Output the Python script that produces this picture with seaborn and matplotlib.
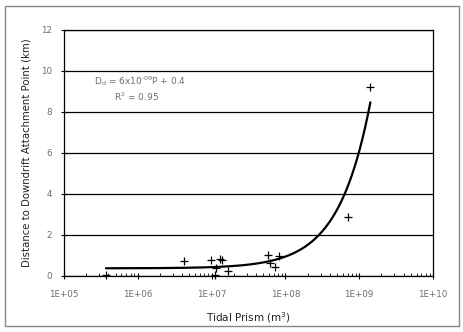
import numpy as np
import pandas as pd
import matplotlib
matplotlib.use("Agg")
import matplotlib.pyplot as plt
import matplotlib.ticker as mticker
from matplotlib.patches import Rectangle
import seaborn as sns

# Data
tidal_prism = [3.7e5, 4.2e6, 9.8e6, 1.1e7, 1.15e7, 1.3e7, 1.4e7, 1.67e7,
               5.9e7, 6.2e7, 7.3e7, 8.1e7, 7.1e8, 1.42e9]
distance_km = [0.02, 0.73, 0.76, 0.02, 0.37, 0.83, 0.78, 0.24,
               1.02, 0.62, 0.42, 0.96, 2.85, 9.19]
# trend line constants (linear fit drawn on log x axis)
fit_slope = 5.7e-9
fit_intercept = 0.37
x_ticks = [1e5, 1e6, 1e7, 1e8, 1e9, 1e10]
x_tick_labels = ["1E+05", "1E+06", "1E+07", "1E+08", "1E+09", "1E+10"]
y_ticks = [0, 2, 4, 6, 8, 10, 12]

sns.set_theme(style="white")
plt.rcParams['font.family'] = ['DejaVu Sans']

fig = plt.figure(figsize=(4.64, 3.32), dpi=100)
ax = fig.add_axes([0.138, 0.169, 0.795, 0.741])

df = pd.DataFrame({"P": tidal_prism, "D": distance_km})
sns.scatterplot(data=df, x="P", y="D", marker="+", s=40, color="black",
                linewidth=0.9, ax=ax, zorder=4, clip_on=False)

xf = np.logspace(np.log10(min(tidal_prism)), np.log10(max(tidal_prism)), 300)
sns.lineplot(x=xf, y=fit_slope * xf + fit_intercept, color="black",
             linewidth=1.6, ax=ax, zorder=3)

ax.set_xscale("log")
ax.set_xlim(1e5, 1e10)
ax.set_ylim(0, 12)
ax.set_xticks(x_ticks)
ax.set_xticklabels(x_tick_labels)
ax.xaxis.set_minor_locator(mticker.LogLocator(base=10, subs=np.arange(2, 10), numticks=20))
ax.xaxis.set_minor_formatter(mticker.NullFormatter())
ax.set_yticks(y_ticks)
ax.yaxis.grid(True, color="black", linewidth=0.9)
ax.xaxis.grid(False)
ax.set_axisbelow(True)
for sp in ax.spines.values():
    sp.set_color("black")
    sp.set_linewidth(0.9)

ax.tick_params(axis="x", which="major", direction="inout", length=5, width=0.8,
               colors="black", labelcolor="#6e6e6e", labelsize=6.3, pad=8, bottom=True)
ax.tick_params(axis="x", which="minor", direction="in", length=2.5, width=0.6,
               colors="black", bottom=True)
ax.tick_params(axis="y", which="major", direction="inout", length=5, width=0.8,
               colors="black", labelcolor="#6e6e6e", labelsize=6.3, pad=6, left=True)

ax.set_xlabel("Tidal Prism (m$^3$)", fontsize=7.5, color="#222222", labelpad=8)
ax.set_ylabel("Distance to Downdrift Attachment Point (km)", fontsize=7.3,
              color="#222222", labelpad=7)

ax.text(0.08, 0.78, "D$_\\mathrm{d}$ = 6x10$^{\\mathrm{‐09}}$P + 0.4", transform=ax.transAxes,
        fontsize=6.5, color="#6e6e6e")
ax.text(0.135, 0.71, "R$^2$ = 0.95", transform=ax.transAxes,
        fontsize=6.5, color="#6e6e6e")

fig.patches.append(Rectangle((5 / 464, 6 / 332), 454 / 464, 320 / 332,
                             transform=fig.transFigure, fill=False,
                             edgecolor="#888888", linewidth=1))

fig.savefig("out.png", dpi=100)
